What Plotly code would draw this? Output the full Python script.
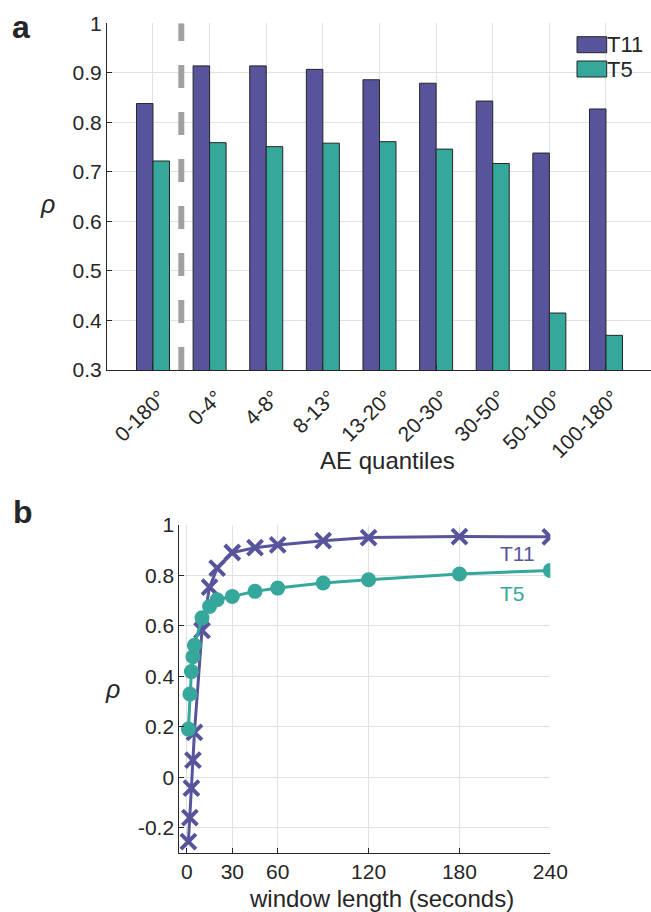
import plotly.graph_objects as go

# ---------------- data ----------------
categories = ["0-180°", "0-4°", "4-8°", "8-13°", "13-20°", "20-30°", "30-50°", "50-100°", "100-180°"]
t11_bar = [0.838, 0.914, 0.914, 0.907, 0.886, 0.879, 0.843, 0.738, 0.827]
t5_bar = [0.722, 0.759, 0.751, 0.758, 0.761, 0.746, 0.717, 0.415, 0.370]

window_s = [1, 2, 3, 4, 5, 10, 15, 20, 30, 45, 60, 90, 120, 180, 240]
t11_rho = [-0.255, -0.160, -0.043, 0.068, 0.178, 0.582, 0.754, 0.829, 0.891, 0.910, 0.921, 0.938, 0.950, 0.954, 0.953]
t5_rho = [0.191, 0.330, 0.419, 0.478, 0.523, 0.632, 0.677, 0.704, 0.717, 0.737, 0.750, 0.770, 0.783, 0.806, 0.820]

a_yticks = [0.3, 0.4, 0.5, 0.6, 0.7, 0.8, 0.9, 1.0]
a_yticktext = ["0.3", "0.4", "0.5", "0.6", "0.7", "0.8", "0.9", "1"]
b_xticks = [0, 30, 60, 120, 180, 240]
b_yticks = [-0.2, 0, 0.2, 0.4, 0.6, 0.8, 1.0]
b_yticktext = ["-0.2", "0", "0.2", "0.4", "0.6", "0.8", "1"]

# ---------------- style ----------------
W, H = 651, 912
PURPLE = "#58549B"
TEAL = "#35A89B"
TXT = "#262626"
GRID = "#E1E1E1"
FONT = "Liberation Sans, Arial, sans-serif"


def px(x):
    return x / W


def py(y):
    return 1 - y / H


fig = go.Figure()

fig.add_trace(go.Bar(x=categories, y=t11_bar, name="T11", marker=dict(color=PURPLE, line=dict(color=TXT, width=1)),
                     xaxis="x", yaxis="y", showlegend=False))
fig.add_trace(go.Bar(x=categories, y=t5_bar, name="T5", marker=dict(color=TEAL, line=dict(color=TXT, width=1)),
                     xaxis="x", yaxis="y", showlegend=False))

fig.add_trace(go.Scatter(x=window_s, y=t11_rho, mode="lines+markers", name="T11",
                         line=dict(color=PURPLE, width=3),
                         marker=dict(symbol="x-thin", size=15, line=dict(color=PURPLE, width=4), color=PURPLE),
                         xaxis="x2", yaxis="y2", showlegend=False))
fig.add_trace(go.Scatter(x=window_s, y=t5_rho, mode="lines+markers", name="T5",
                         line=dict(color=TEAL, width=3),
                         marker=dict(symbol="circle", size=15, color=TEAL),
                         xaxis="x2", yaxis="y2", showlegend=False))

axis_common = dict(showline=True, linecolor=TXT, linewidth=1, ticks="inside", tickcolor=TXT, ticklen=5,
                   showgrid=True, gridcolor=GRID, gridwidth=1, zeroline=False, automargin=False,
                   tickfont=dict(family=FONT, size=21, color=TXT))

fig.update_layout(
    template="none",
    width=W, height=H,
    margin=dict(l=0, r=0, t=0, b=0, pad=0),
    paper_bgcolor="white", plot_bgcolor="white",
    barmode="group", bargap=0.417, bargroupgap=0,
    font=dict(family=FONT, color=TXT),
    xaxis=dict(axis_common, domain=[px(107), 1.0], type="category", range=[-0.812, 8.795],
               tickangle=-45, anchor="y", ticklabelshift=7, ticklabelstandoff=6),
    yaxis=dict(axis_common, domain=[py(370), py(23.3)], range=[0.3, 1.0],
               tickvals=a_yticks, ticktext=a_yticktext, anchor="x"),
    xaxis2=dict(axis_common, domain=[px(179.3), px(550.3)], range=[-5, 240], tickvals=b_xticks, anchor="y2"),
    yaxis2=dict(axis_common, domain=[py(853), py(525)], range=[-0.3, 1.0],
                tickvals=b_yticks, ticktext=b_yticktext, anchor="x2"),
)

# dashed separator in panel a
fig.add_shape(type="line", xref="x", yref="y", x0=0.5, x1=0.5, y0=0.3, y1=1.0,
              line=dict(color="#A0A0A0", width=6, dash="23px,24px"))

# legend in panel a
for (y0, y1, col, lab) in [(36.7, 52.7, PURPLE, "T11"), (61, 77, TEAL, "T5")]:
    fig.add_shape(type="rect", xref="paper", yref="paper", x0=px(577), x1=px(606.7), y0=py(y1), y1=py(y0),
                  fillcolor=col, line=dict(color=TXT, width=1))
    fig.add_annotation(xref="paper", yref="paper", x=px(606), y=py((y0 + y1) / 2), text=lab, showarrow=False,
                       xanchor="left", yanchor="middle", borderpad=0,
                       font=dict(family=FONT, size=22, color=TXT))

ann = [
    (20.5, 26.5, "<b>a</b>", 32, TXT, FONT),
    (23, 512, "<b>b</b>", 32, TXT, FONT),
    (47, 204, "<i>ρ</i>", 25, TXT, FONT),
    (112, 689, "<i>ρ</i>", 25, TXT, FONT),
    (387, 460, "AE quantiles", 24, TXT, FONT),
    (381.5, 898, "window length (seconds)", 24, TXT, FONT),
]
for x, y, t, s, c, f in ann:
    fig.add_annotation(xref="paper", yref="paper", x=px(x), y=py(y), text=t, showarrow=False,
                       xanchor="center", yanchor="middle", font=dict(family=f, size=s, color=c))

# series labels in panel b
fig.add_annotation(xref="x2", yref="y2", x=218.5, y=0.886, text="T11", showarrow=False,
                   font=dict(family=FONT, size=21, color=PURPLE))
fig.add_annotation(xref="x2", yref="y2", x=215, y=0.728, text="T5", showarrow=False,
                   font=dict(family=FONT, size=21, color=TEAL))

fig.write_html("out.html", config={"displayModeBar": False},
               post_script="document.body.style.margin='0';document.body.style.overflow='hidden';"
                           "document.documentElement.style.overflow='hidden';")
